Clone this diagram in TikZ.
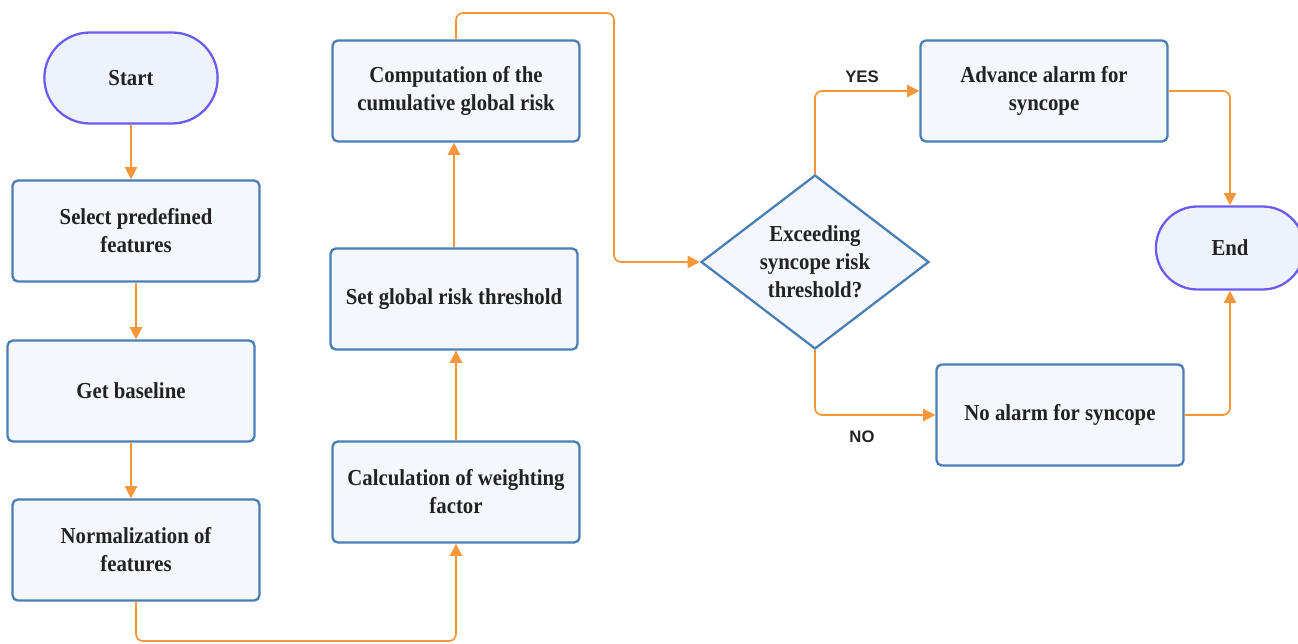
\documentclass[tikz,border=0pt]{standalone}
\usepackage{fontspec}
\setmainfont{Liberation Serif}[FakeStretch=0.91]
\newfontfamily\labelfont{Liberation Sans}
\usepackage{xcolor}
\usetikzlibrary{arrows.meta,shapes.geometric,shapes.misc}

\definecolor{boxblue}{HTML}{4A7EB5}
\definecolor{boxfill}{HTML}{F4F8FD}
\definecolor{termblue}{HTML}{6A5CF2}
\definecolor{termfill}{HTML}{EEF2FD}
\definecolor{linkorange}{HTML}{F7963A}
\definecolor{txt}{HTML}{222222}

\begin{document}
\begin{tikzpicture}[x=0.02cm,y=-0.02cm,
  box/.style={draw=boxblue, fill=boxfill, line width=1.3pt, rounded corners=3pt,
    minimum width=4.94cm, minimum height=2.02cm, align=center, text=txt,
    font=\fontsize{13}{16}\selectfont\bfseries},
  term/.style={rounded rectangle, draw=termblue, fill=termfill, line width=1.3pt,
    align=center, text=txt, font=\fontsize{13}{16}\selectfont\bfseries},
  decision/.style={diamond, draw=boxblue, fill=boxfill, line width=1.3pt, inner sep=0pt,
    aspect=1.31, minimum width=4.56cm, minimum height=3.48cm, align=center, text=txt,
    font=\fontsize{13}{16}\selectfont\bfseries},
  link/.style={draw=linkorange, line width=1pt, rounded corners=4pt,
    -{Triangle[length=7pt,width=7pt]}},
  answer/.style={text=txt, font=\labelfont\fontsize{9.5}{11}\selectfont\bfseries}]

\useasboundingbox (0,0) rectangle (1298,644);

\node[term, minimum width=3.7cm, minimum height=1.82cm] (start) at (131,78) {Start};
\node[box] (sel) at (136,231) {Select predefined\\features};
\node[box] (base) at (131,391) {Get baseline};
\node[box] (norm) at (136,550) {Normalization of\\features};
\node[box] (calc) at (456,492) {Calculation of weighting\\factor};
\node[box] (thr) at (454,299) {Set global risk threshold};
\node[box] (comp) at (456,91) {Computation of the\\cumulative global risk};
\node[decision] (dec) at (815,262) {Exceeding\\syncope risk\\threshold?};
\node[box] (adv) at (1044,91) {Advance alarm for\\syncope};
\node[box] (noal) at (1060,415) {No alarm for syncope};
\node[term, minimum width=3.2cm, minimum height=1.66cm] (fin) at (1230,248) {End};

\coordinate (low) at (0,641);
\coordinate (high) at (614,13);

\draw[link] (start.south) -- (start.south |- sel.north);
\draw[link] (sel.south) -- (sel.south |- base.north);
\draw[link] (base.south) -- (base.south |- norm.north);
\draw[link] (norm.south) -- (norm.south |- low) -- (calc.south |- low) -- (calc.south);
\draw[link] (calc.north) -- (calc.north |- thr.south);
\draw[link] (thr.north) -- (thr.north |- comp.south);
\draw[link] (comp.north) -- (comp.north |- high) -- (high) |- (dec.west);
\draw[link] (dec.north) |- (adv.west);
\draw[link] (dec.south) |- (noal.west);
\draw[link] (adv.east) -| (fin.north);
\draw[link] (noal.east) -| (fin.south);

\node[answer] (yes) at (862,77) {YES};
\node[answer] (no) at (862,437) {NO};

\end{tikzpicture}
\end{document}
